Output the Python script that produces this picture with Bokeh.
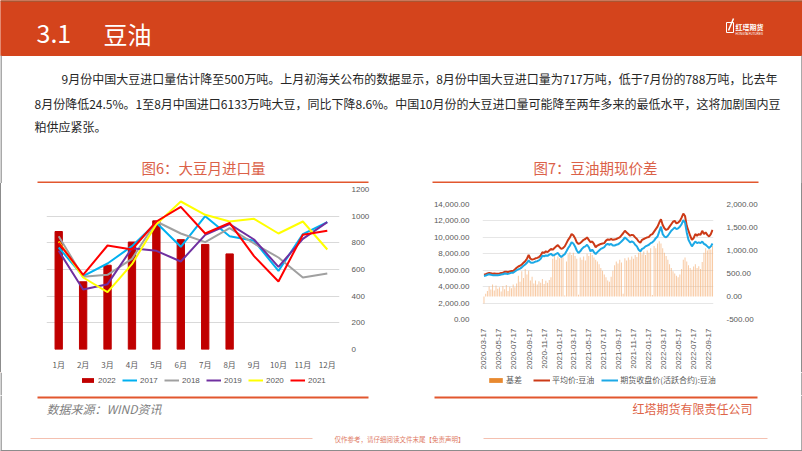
import math
import pandas as pd
from bokeh.plotting import figure
from bokeh.layouts import column, row
from bokeh.models import (Range1d, FactorRange, LinearAxis, FixedTicker, NumeralTickFormatter,
                          DatetimeTickFormatter, Legend, LegendItem, Spacer)
from bokeh.core.properties import value
from bokeh.embed import file_html
from bokeh.resources import INLINE

CJK = "Noto Sans CJK SC"
NUM = "Liberation Sans"

# ---------------- data: chart 6 (monthly soybean imports, 10k t) ----------------
months = ["1月", "2月", "3月", "4月", "5月", "6月", "7月", "8月", "9月", "10月", "11月", "12月"]
imp_2022 = [885, 508, 632, 806, 965, 824, 788, 717]
imp_2017 = [765, 550, 645, 775, 950, 770, 1000, 850, 815, 590, 865, 955]
imp_2018 = [850, 545, 560, 680, 960, 870, 805, 910, 795, 690, 540, 570]
imp_2019 = [740, 450, 490, 760, 740, 660, 860, 940, 825, 620, 830, 955]
imp_2020 = [810, 540, 430, 640, 940, 1110, 1010, 960, 980, 870, 960, 750]
imp_2021 = [800, 560, 780, 750, 960, 1070, 870, 950, 700, 510, 860, 890]
imp_ticks = [0, 200, 400, 600, 800, 1000, 1200]

# ---------------- data: chart 7 (soybean oil spot vs futures, weekly) ----------------
week_first = "2020-03-17"
spot_avg = [5450, 5500, 5600, 5650, 5620, 5580, 5600, 5560, 5580, 5600,
            5650, 5700, 5800, 5820, 5780, 5850, 5900, 5900, 6100, 6300,
            6450, 6550, 6700, 6900, 7100, 7400, 7850, 7400, 7300, 7350,
            7450, 7500, 7600, 7800, 8200, 8100, 8300, 8200, 8400, 8600,
            8500, 8700, 8900, 9050, 8800, 8600, 8700, 8900, 9300, 9700,
            10000, 10400, 10250, 9900, 9400, 9200, 9300, 9500, 9700, 9800,
            10000, 9700, 9400, 9500, 9200, 8800, 9000, 9100, 9200, 9250,
            9300, 9600, 9750, 9700, 9800, 9700, 9750, 9800, 9900, 10000,
            10250, 10500, 10800, 10600, 10400, 10200, 10300, 10250, 10000, 9800,
            9500, 9350, 9700, 9800, 9900, 10000, 10050, 10300, 10400, 10700,
            11000, 11300, 11800, 12200, 11500, 11100, 10900, 11000, 11300, 11600,
            11900, 12000, 11700, 11800, 12000, 12400, 12900, 12600, 11400, 10800,
            10200, 9700, 9900, 10400, 10200, 10400, 10300, 10800, 10400, 10600,
            10300, 10100, 10400, 10900]
fut_close = [5300, 5350, 5450, 5500, 5450, 5400, 5400, 5380, 5400, 5420,
             5480, 5500, 5600, 5580, 5550, 5620, 5700, 5700, 5850, 6000,
             6100, 6200, 6350, 6550, 6700, 6900, 7200, 6950, 6900, 6950,
             7050, 7100, 7200, 7400, 7750, 7700, 7800, 7750, 7900, 8000,
             7800, 7850, 8000, 8100, 7800, 7600, 7800, 7950, 8300, 8700,
             9000, 9400, 9250, 8900, 8400, 8100, 8300, 8600, 8800, 8900,
             9100, 8800, 8300, 8500, 8200, 7950, 8200, 8400, 8600, 8700,
             8800, 9100, 9200, 9100, 9200, 9000, 9000, 9100, 9150, 9300,
             9500, 9700, 10000, 9800, 9600, 9400, 9500, 9400, 9100, 8900,
             8500, 8300, 8600, 8700, 8900, 9000, 9100, 9300, 9400, 9600,
             9900, 10100, 10700, 11300, 10400, 10100, 10000, 10200, 10500, 10800,
             11000, 11200, 11000, 11100, 11300, 11600, 12100, 11800, 10600, 9700,
             9300, 8900, 9200, 9500, 9300, 9400, 9300, 9500, 9200, 9100,
             8900, 8700, 8900, 9250]
basis = [-150, 60, 120, 220, 150, 260, 130, 240, 170, 200,
         110, 230, 160, 250, 120, 210, 180, 260, 200, 280,
         450, 320, 550, 400, 600, 480, 560, 350, 430, 280,
         350, 260, 330, 300, 380, 270, 340, 300, 360, 420,
         820, 880, 800, 870, 830, 890, 850, 20, 760, 920,
         960, 900, 950, 880, 820, 40, 850, 800, 870, 780,
         930, 880, 950, 900, 850, 800, 760, 700, 620, 560,
         480, 420, 350, 320, 430, 560, 680, 760, 720, 800,
         740, 60, 830, 780, 850, 800, 870, 820, 900, 860,
         950, 1000, 920, 980, 900, 1000, 950, 1050, 30, 1100,
         1050, 1150, 1200, 1150, 1050, 950, 880, 800, 700, 620,
         550, 500, 450, 420, 480, 600, 800, 850, 760, 680,
         620, 580, 650, 700, 620, 660, 600, 750, 950, 1050,
         1000, 1080, 1020, 1100]
left_ticks = [0, 2000, 4000, 6000, 8000, 10000, 12000, 14000]
right_ticks = [-500, 0, 500, 1000, 1500, 2000]
date_tick_first = "2020-03-17"
n_date_ticks = 16

dates = pd.date_range(week_first, periods=len(spot_avg), freq="7D")
date_ticks = pd.date_range(date_tick_first, periods=n_date_ticks, freq=pd.DateOffset(months=2))
date_ticks_ms = [int(t.value // 10**6) for t in date_ticks]

para = [
    "9月份中国大豆进口量估计降至500万吨。上月初海关公布的数据显示，8月份中国大豆进口量为717万吨，低于7月份的788万吨，比去年",
    "8月份降低24.5%。1至8月中国进口6133万吨大豆，同比下降8.6%。中国10月份的大豆进口量可能降至两年多来的最低水平，这将加剧国内豆",
    "粕供应紧张。",
]

ORANGE = "#D4441C"
LINE_RED = "#E2572E"
TITLE_RED = "#DB6148"
BORDER = "#8C8C8C"
AX = "#595959"
C2022, C2017, C2018, C2019, C2020, C2021 = "#C00000", "#00B0F0", "#A0A0A0", "#7030A0", "#FFFF00", "#FF0000"
C_BASIS, C_BASIS_KEY, C_SPOT, C_FUT = "#F5B27A", "#E8892F", "#CC3A17", "#1CA9E6"


def blank(w, h):
    f = figure(width=w, height=h, x_range=Range1d(0, w), y_range=Range1d(h, 0),
               x_axis_type=None, y_axis_type=None, toolbar_location=None,
               output_backend="svg", min_border=0)
    f.grid.visible = False
    f.outline_line_color = None
    return f


# ---------------- top section ----------------
top = blank(802, 183)
top.quad(left=0, right=802, top=0, bottom=55, color=ORANGE)
top.segment(x0=0, y0=0.5, x1=802, y1=0.5, line_color="#9C5B3A", line_width=1.5)
top.segment(x0=[0.5, 801.5], y0=[55, 55], x1=[0.5, 801.5], y1=[183, 183], line_color=BORDER, line_width=1.5)
top.text(x=[36], y=[33], text=["3.1"], text_baseline="middle", text_font_size="25px",
         text_color="white", text_font=value(CJK))
top.text(x=[103], y=[33], text=["豆油"], text_baseline="middle", text_font_size="24px",
         text_color="white", text_font=value(CJK))
# logo
top.quad(left=726, right=733, top=22, bottom=32, fill_alpha=0, line_color="white", line_width=1)
top.segment(x0=[728], y0=[30], x1=[733], y1=[18], line_color="white", line_width=1.5)
top.text(x=[735], y=[26], text=["红塔期货"], text_baseline="middle", text_font_size="7px",
         text_font_style="bold", text_color="white", text_font=value(CJK))
top.text(x=[735], y=[33], text=["HONGTA FUTURES"], text_baseline="middle", text_font_size="3px",
         text_color="white", text_font=value(NUM))
# paragraph
top.text(x=[61, 34, 34], y=[78, 103, 126], text=para, text_baseline="middle",
         text_font_size="12px", text_color="#262626", text_font=value(CJK))
# chart titles + rules
top.text(x=[203, 595], y=[166.5, 166.5], text=["图6：大豆月进口量", "图7：豆油期现价差"],
         text_align="center", text_baseline="middle", text_font_size="14.5px",
         text_color=TITLE_RED, text_font=value(CJK))
top.segment(x0=[37, 432], y0=[182, 182], x1=[368, 758], y1=[182, 182], line_color=LINE_RED, line_width=2)

# ---------------- chart 6 ----------------
p1 = figure(width=400, height=189, x_range=FactorRange(factors=months), y_range=Range1d(0, 1200),
            y_axis_location="right", toolbar_location=None, output_backend="svg",
            min_border_left=45, min_border_right=62, min_border_top=6, min_border_bottom=22)
p1.frame_align = False
p1.outline_line_color = None
p1.xgrid.visible = False
p1.ygrid.grid_line_color = "#D9D9D9"
p1.ygrid.grid_line_width = 1
p1.yaxis.ticker = FixedTicker(ticks=imp_ticks)
for ax in (p1.xaxis[0], p1.yaxis[0]):
    ax.axis_line_color = None
    ax.major_tick_line_color = None
    ax.minor_tick_line_color = None
    ax.major_label_text_font_size = "8px"
    ax.major_label_text_color = AX
    ax.major_label_text_font = CJK
p1.yaxis.major_label_text_font = NUM
p1.yaxis.major_label_standoff = 6
p1.xaxis.major_label_standoff = 3

p1.vbar(x=months[:8], top=imp_2022, width=0.3, color=C2022)
series = [("2017", imp_2017, C2017), ("2018", imp_2018, C2018), ("2019", imp_2019, C2019),
          ("2020", imp_2020, C2020), ("2021", imp_2021, C2021)]
for name, vals, col in series:
    p1.line(x=months, y=vals, line_color=col, line_width=2)

# ---------------- chart 7 ----------------
p2 = figure(width=400, height=189, x_axis_type="datetime",
            x_range=Range1d(pd.Timestamp("2020-03-11"), pd.Timestamp("2022-10-08")),
            y_range=Range1d(0, 14000), toolbar_location=None, output_backend="svg",
            min_border_left=81, min_border_right=88, min_border_top=21, min_border_bottom=47)
p2.frame_align = False
p2.outline_line_color = None
p2.xgrid.visible = False
p2.ygrid.grid_line_color = "#E6E6E6"
p2.extra_y_ranges = {"basis": Range1d(-500, 2000)}
p2.yaxis.ticker = FixedTicker(ticks=left_ticks)
p2.yaxis.formatter = NumeralTickFormatter(format="0,0.00")
rax = LinearAxis(y_range_name="basis", ticker=FixedTicker(ticks=right_ticks),
                 formatter=NumeralTickFormatter(format="0,0.00"))
p2.add_layout(rax, "right")
p2.xaxis.ticker = FixedTicker(ticks=date_ticks_ms)
fmt = "%Y-%m-%d"
p2.xaxis.formatter = DatetimeTickFormatter(milliseconds=fmt, seconds=fmt, minsec=fmt, minutes=fmt,
                                           hourmin=fmt, hours=fmt, days=fmt, months=fmt, years=fmt)
p2.xaxis.major_label_orientation = math.pi / 2
for ax in (p2.xaxis[0], p2.yaxis[0], rax):
    ax.axis_line_color = None
    ax.major_tick_line_color = None
    ax.minor_tick_line_color = None
    ax.major_label_text_font_size = "8px"
    ax.major_label_text_color = AX
    ax.major_label_text_font = NUM
    ax.major_label_standoff = 7
p2.xaxis.major_label_standoff = 3

p2.vbar(x=dates, top=basis, bottom=0, width=4 * 86400000, y_range_name="basis",
        fill_color=C_BASIS, line_color=None, fill_alpha=0.7)
p2.line(x=dates, y=spot_avg, line_color=C_SPOT, line_width=2)
p2.line(x=dates, y=fut_close, line_color=C_FUT, line_width=2)

# ---------------- legend strip (real Bokeh legends; key renderers sit outside the visible range) ----------------
leg = blank(802, 23)
leg.segment(x0=[0.5, 801.5], y0=[0, 0], x1=[0.5, 801.5], y1=[23, 23], line_color=BORDER, line_width=1.5)
OFF = [-500]
OFF2 = [-500, -400]


def key_bar(col):
    return leg.vbar(x=OFF, top=OFF, bottom=[-600], width=1, fill_color=col, line_color=None)


def key_line(col):
    return leg.line(x=OFF2, y=OFF2, line_color=col, line_width=2)


k22 = key_bar(C2022)
k_lines = [(n, key_line(c))
           for n, c in [("2017", C2017), ("2018", C2018), ("2019", C2019), ("2020", C2020), ("2021", C2021)]]
legend1 = Legend(items=[LegendItem(label="2022", renderers=[k22], index=0)] +
                 [LegendItem(label=n, renderers=[r], index=0) for n, r in k_lines],
                 orientation="horizontal", location=(80, 10),
                 background_fill_alpha=0, border_line_color=None, label_text_font_size="8px",
                 label_text_font=NUM, label_text_color=AX, glyph_width=15, glyph_height=6,
                 label_height=10, label_standoff=3, spacing=4, padding=0, margin=0)
leg.add_layout(legend1)
kb = key_bar(C_BASIS_KEY)
ks = key_line(C_SPOT)
kf = key_line(C_FUT)
legend2 = Legend(items=[LegendItem(label="基差", renderers=[kb], index=0),
                        LegendItem(label="平均价:豆油", renderers=[ks], index=0),
                        LegendItem(label="期货收盘价(活跃合约):豆油", renderers=[kf], index=0)],
                 orientation="horizontal", location=(487, 10),
                 background_fill_alpha=0, border_line_color=None, label_text_font_size="8px",
                 label_text_font=CJK, label_text_color=AX, glyph_width=17, glyph_height=6,
                 label_height=10, label_standoff=2, spacing=7, padding=0, margin=0)
leg.add_layout(legend2)

# ---------------- bottom section ----------------
bot = blank(802, 56)
bot.segment(x0=[37, 434], y0=[2, 2], x1=[368, 757], y1=[2, 2], line_color=LINE_RED, line_width=2)
bot.text(x=[46], y=[13], text=["数据来源：WIND资讯"], text_baseline="middle", text_font_size="12px",
         text_font_style="italic", text_color="#7F7F7F", text_font=value(CJK))
bot.text(x=[752], y=[13], text=["红塔期货有限责任公司"], text_align="right", text_baseline="middle",
         text_font_size="12px", text_color="#DE6448", text_font=value(CJK))
bot.segment(x0=[30, 483], y0=[43, 43], x1=[312, 767], y1=[43, 43], line_color="#F4C0B0", line_width=1)
bot.text(x=[399], y=[43], text=["仅作参考，请仔细阅读文件末尾【免责声明】"], text_align="center",
         text_baseline="middle", text_font_size="6.5px", text_color="#E07B66", text_font=value(CJK))
bot.segment(x0=[0.5, 801.5, 0], y0=[0, 0, 55.3], x1=[0.5, 801.5, 802], y1=[56, 56, 55.3],
            line_color=BORDER, line_width=1.5)

mid = row(Spacer(width=1, height=189, styles={"background-color": BORDER}), p1, p2,
          Spacer(width=1, height=189, styles={"background-color": BORDER}))
layout = column(top, mid, leg, bot)

open("out.html", "w").write(file_html(layout, INLINE))
